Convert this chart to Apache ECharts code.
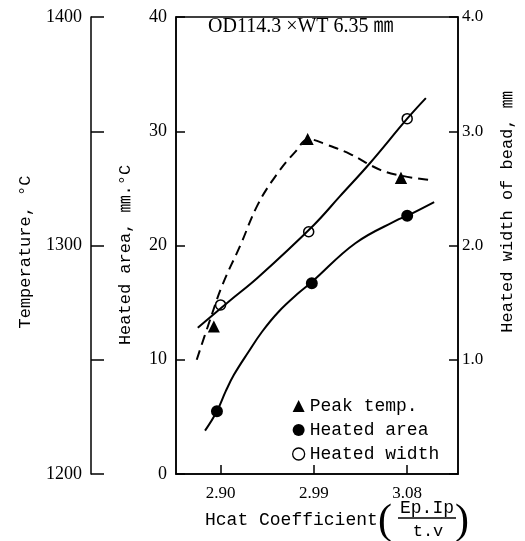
<!DOCTYPE html>
<html><head><meta charset="utf-8">
<script src="https://cdn.jsdelivr.net/npm/echarts@6/dist/echarts.min.js"></script>
<style>html,body{margin:0;padding:0;background:#fff}#c{width:525px;height:541px}</style>
</head><body><div id="c"></div>
<script>
// ---- data ----
const xTickValues = [2.90, 2.99, 3.08];
const peakX = [2.8935, 2.984, 3.074];
const peakT = [1265, 1347, 1330];
const areaX = [2.8965, 2.988, 3.080];
const areaV = [5.5, 16.7, 22.6];
const widthX = [2.900, 2.985, 3.080];
const widthV = [1.48, 2.12, 3.11];
// fitted curves as drawn in the picture
const peakCurveX = [2.877, 2.888, 2.902, 2.919, 2.936, 2.954, 2.972, 2.985, 3.003, 3.025, 3.0545, 3.075, 3.096, 3.103];
const peakCurveT = [1250, 1265, 1283, 1300, 1318, 1331, 1341, 1346.5, 1344, 1340, 1333, 1330.5, 1329, 1328.7];
const areaCurveX = [2.885, 2.8965, 2.905, 2.913, 2.927, 2.940, 2.956, 2.976, 2.988, 3.030, 3.072, 3.080, 3.106];
const areaCurveV = [3.8, 5.5, 7.25, 8.7, 10.7, 12.45, 14.2, 15.9, 16.8, 20.2, 22.3, 22.6, 23.8];
const widthCurveX = [2.878, 2.908, 2.936, 2.990, 3.015, 3.044, 3.080, 3.098];
const widthCurveV = [1.28, 1.51, 1.72, 2.18, 2.43, 2.72, 3.11, 3.29];
const seriesNames = ['Peak temp.', 'Heated area', 'Heated width'];

const zip = (xs, ys) => xs.map((x, i) => [x, ys[i]]);
const SERIF = 'Liberation Serif, Noto Sans CJK JP';
const MONO = 'Liberation Mono, Noto Sans CJK JP';

const chart = echarts.init(document.getElementById('c'), null, {renderer: 'canvas'});
const axisLineStyle = {color: '#000', width: 1.5};
chart.setOption({
  animation: false,
  backgroundColor: '#fff',
  grid: {left: 176, right: 67, top: 17, bottom: 67, show: true, borderColor: '#000', borderWidth: 1.5, backgroundColor: 'transparent'},
  xAxis: {
    type: 'value', min: 2.857, max: 3.129,
    splitLine: {show: false},
    axisLine: {lineStyle: axisLineStyle},
    axisTick: {inside: true, length: 9, customValues: xTickValues, lineStyle: {color: '#000', width: 1.5}},
    axisLabel: {customValues: xTickValues, formatter: v => v.toFixed(2), margin: 11, fontFamily: SERIF, fontSize: 17, color: '#000'}
  },
  yAxis: [
    {
      type: 'value', position: 'left', min: 0, max: 40, interval: 10,
      splitLine: {show: false},
      axisLine: {show: true, lineStyle: axisLineStyle},
      axisTick: {show: true, inside: true, length: 9, lineStyle: {color: '#000', width: 1.5}},
      axisLabel: {margin: 9, fontFamily: SERIF, fontSize: 18, color: '#000'}
    },
    {
      type: 'value', position: 'right', min: 0, max: 4, interval: 1,
      splitLine: {show: false},
      axisLine: {show: true, lineStyle: axisLineStyle},
      axisTick: {show: true, inside: true, length: 9, lineStyle: {color: '#000', width: 1.5}},
      axisLabel: {margin: 4, fontFamily: SERIF, fontSize: 17, color: '#000', formatter: v => v === 0 ? '' : v.toFixed(1)}
    },
    {
      type: 'value', position: 'left', offset: 85, min: 1200, max: 1400, interval: 50,
      splitLine: {show: false},
      axisLine: {show: true, lineStyle: axisLineStyle},
      axisTick: {show: true, inside: true, length: 13, lineStyle: {color: '#000', width: 1.5}},
      axisLabel: {margin: 9, fontFamily: SERIF, fontSize: 18, color: '#000', formatter: v => v % 100 === 0 ? String(v) : ''}
    }
  ],
  legend: {
    orient: 'vertical', left: 287, top: 392, itemWidth: 12, itemHeight: 12, itemGap: 6, itemTextGap: 9,
    textStyle: {fontFamily: MONO, fontSize: 18, color: '#000'},
    data: [
      {name: seriesNames[0], itemStyle: {color: '#000', borderWidth: 0}},
      {name: seriesNames[1], itemStyle: {color: '#000', borderWidth: 0}},
      {name: seriesNames[2], itemStyle: {color: '#fff', borderColor: '#000', borderWidth: 1.3}}
    ]
  },
  series: [
    {type: 'line', name: 'peakCurve', yAxisIndex: 2, data: zip(peakCurveX, peakCurveT), smooth: 0.4, showSymbol: false, silent: true,
      lineStyle: {color: '#000', width: 2, type: [10, 6]}},
    {type: 'line', name: 'areaCurve', yAxisIndex: 0, data: zip(areaCurveX, areaCurveV), smooth: 0.4, showSymbol: false, silent: true,
      lineStyle: {color: '#000', width: 2}},
    {type: 'line', name: 'widthCurve', yAxisIndex: 1, data: zip(widthCurveX, widthCurveV), smooth: 0.4, showSymbol: false, silent: true,
      lineStyle: {color: '#000', width: 2}},
    {type: 'scatter', name: 'widthHalo', yAxisIndex: 1, data: zip(widthX, widthV), symbol: 'circle', symbolSize: 16, silent: true,
      itemStyle: {color: '#fff', opacity: 1}},
    {type: 'scatter', name: seriesNames[0], yAxisIndex: 2, data: zip(peakX, peakT), symbol: 'triangle', symbolSize: 17,
      itemStyle: {color: '#000', borderColor: '#fff', borderWidth: 3, opacity: 1}},
    {type: 'scatter', name: seriesNames[1], yAxisIndex: 0, data: zip(areaX, areaV), symbol: 'circle', symbolSize: 15,
      itemStyle: {color: '#000', borderColor: '#fff', borderWidth: 3, opacity: 1}},
    {type: 'scatter', name: seriesNames[2], yAxisIndex: 1, data: zip(widthX, widthV), symbol: 'circle', symbolSize: 10,
      itemStyle: {color: '#fff', borderColor: '#000', borderWidth: 1.5, opacity: 1}}
  ],
  graphic: [
    {type: 'text', left: 208, top: 17, style: {text: 'OD114.3 ×WT 6.35 ㎜', fontFamily: SERIF, fontSize: 20, fill: '#000'}},
    {type: 'text', x: 25, y: 252, rotation: Math.PI / 2, style: {text: 'Temperature, °C', fontFamily: MONO, fontSize: 17, fill: '#000', align: 'center', verticalAlign: 'middle'}},
    {type: 'text', x: 125, y: 255, rotation: Math.PI / 2, style: {text: 'Heated area, ㎜.°C', fontFamily: MONO, fontSize: 17, fill: '#000', align: 'center', verticalAlign: 'middle'}},
    {type: 'text', x: 507, y: 212, rotation: Math.PI / 2, style: {text: 'Heated width of bead, ㎜', fontFamily: MONO, fontSize: 17, fill: '#000', align: 'center', verticalAlign: 'middle'}},
    {type: 'text', x: 205, y: 520, style: {text: 'Hcat Coefficient', fontFamily: MONO, fontSize: 18, fill: '#000', align: 'left', verticalAlign: 'middle'}},
    {type: 'text', x: 385, y: 522, style: {text: '(', fontFamily: SERIF, fontSize: 42, fill: '#000', align: 'center', verticalAlign: 'middle'}},
    {type: 'text', x: 462, y: 522, style: {text: ')', fontFamily: SERIF, fontSize: 42, fill: '#000', align: 'center', verticalAlign: 'middle'}},
    {type: 'text', x: 427, y: 508, style: {text: 'Ep.Ip', fontFamily: MONO, fontSize: 18, fill: '#000', align: 'center', verticalAlign: 'middle'}},
    {type: 'line', shape: {x1: 398, y1: 518, x2: 456, y2: 518}, style: {stroke: '#000', lineWidth: 1.5}},
    {type: 'text', x: 428, y: 531, style: {text: 't.v', fontFamily: MONO, fontSize: 17, fill: '#000', align: 'center', verticalAlign: 'middle'}}
  ]
});
</script></body></html>
